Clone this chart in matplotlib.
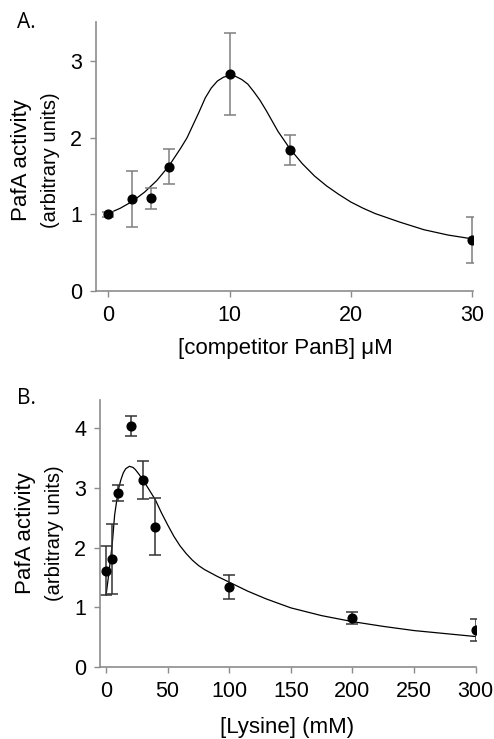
import numpy as np
import matplotlib
matplotlib.use("Agg")
import matplotlib.pyplot as plt

plt.rcParams['font.family'] = ['Liberation Sans', 'DejaVu Sans']

# Panel A: competitor PanB
panb_conc = [0, 2, 3.5, 5, 10, 15, 30]
panb_act = [1.00, 1.20, 1.21, 1.62, 2.83, 1.84, 0.67]
panb_err = [0.03, 0.36, 0.14, 0.23, 0.53, 0.20, 0.30]
# fitted curve
panb_fit_x = [0, 1, 2, 3, 4, 5, 6, 6.5, 7, 7.5, 8, 8.5, 9, 9.5, 10, 10.5, 11,
              11.5, 12, 12.5, 13, 13.5, 14, 15, 16, 17, 18, 19, 20, 21, 22,
              24, 26, 28, 30]
panb_fit_y = [1.01, 1.08, 1.17, 1.29, 1.44, 1.63, 1.87, 2.00, 2.17, 2.34,
              2.52, 2.65, 2.74, 2.79, 2.81, 2.80, 2.76, 2.70, 2.60, 2.49,
              2.36, 2.22, 2.08, 1.85, 1.66, 1.50, 1.37, 1.26, 1.16, 1.08,
              1.01, 0.90, 0.80, 0.73, 0.68]

# Panel B: lysine
lys_conc = [0, 5, 10, 20, 30, 40, 100, 200, 300]
lys_act = [1.61, 1.81, 2.91, 4.03, 3.13, 2.35, 1.34, 0.82, 0.62]
lys_err = [0.41, 0.58, 0.13, 0.17, 0.32, 0.48, 0.20, 0.10, 0.18]
lys_fit_x = [0, 2, 5, 7, 10, 12, 14, 16, 19, 22, 24, 27, 30, 34, 37, 40,
             45, 50, 55, 60, 65, 70, 75, 80, 90, 100, 115, 130, 150, 175,
             200, 225, 250, 275, 300]
lys_fit_y = [1.20, 1.52, 2.05, 2.55, 2.97, 3.13, 3.25, 3.32, 3.36, 3.34,
             3.30, 3.22, 3.13, 3.00, 2.90, 2.80, 2.58, 2.38, 2.19, 2.03,
             1.90, 1.79, 1.70, 1.63, 1.52, 1.42, 1.27, 1.14, 0.99, 0.86,
             0.76, 0.68, 0.61, 0.56, 0.51]

W, H = 494, 739
fig = plt.figure(figsize=(W / 100, H / 100), dpi=100)

spine_col = '#8c8c8c'


def style_axes(ax):
    for s in ['top', 'right']:
        ax.spines[s].set_visible(False)
    for s in ['left', 'bottom']:
        ax.spines[s].set_color(spine_col)
        ax.spines[s].set_linewidth(1.2)
    ax.tick_params(direction='out', length=4, width=1, color=spine_col,
                   labelsize=15.5, pad=6)


# Panel A
axA = fig.add_axes([96 / W, 1 - 291 / H, (473 - 96) / W, (291 - 22) / H])
axA.plot(panb_fit_x, panb_fit_y, color='black', lw=0.9)
axA.errorbar(panb_conc, panb_act, yerr=panb_err, fmt='o', color='black',
             ms=6.3, ecolor='#7f7f7f', elinewidth=1.1, capsize=4.5,
             capthick=1.1)
axA.set_xlim(-1.0, 30.05)
axA.set_ylim(0, 3.51)
axA.set_xticks([0, 10, 20, 30])
axA.set_yticks([0, 1, 2, 3])
style_axes(axA)

# Panel B
axB = fig.add_axes([100 / W, 1 - 667 / H, (476 - 100) / W, (667 - 400) / H])
axB.plot(lys_fit_x, lys_fit_y, color='black', lw=0.9)
axB.errorbar(lys_conc, lys_act, yerr=lys_err, fmt='o', color='black',
             ms=6.3, ecolor='#333333', elinewidth=1.1, capsize=4.5,
             capthick=1.1)
axB.set_xlim(-4.9, 300.3)
axB.set_ylim(0, 4.47)
axB.set_xticks([0, 50, 100, 150, 200, 250, 300])
axB.set_yticks([0, 1, 2, 3, 4])
style_axes(axB)

# labels
fig.text(17 / W, 1 - 22 / H, 'A.', fontsize=15, family='Open Sans',
         va='center', ha='left')
fig.text(17 / W, 1 - 399 / H, 'B.', fontsize=15, family='Open Sans',
         va='center', ha='left')

fig.text(22 / W, 1 - 160 / H, 'PafA activity', rotation=90, fontsize=16,
         va='center', ha='center')
fig.text(50 / W, 1 - 160 / H, '(arbitrary units)', rotation=90, fontsize=14.5,
         va='center', ha='center')
fig.text(25 / W, 1 - 533 / H, 'PafA activity', rotation=90, fontsize=16,
         va='center', ha='center')
fig.text(55 / W, 1 - 533 / H, '(arbitrary units)', rotation=90, fontsize=14.5,
         va='center', ha='center')

fig.text(285 / W, 1 - 348 / H, '[competitor PanB] \u03bcM', fontsize=16,
         va='center', ha='center')
fig.text(287 / W, 1 - 727 / H, '[Lysine] (mM)', fontsize=16,
         va='center', ha='center')

fig.savefig('out.png', dpi=100)
